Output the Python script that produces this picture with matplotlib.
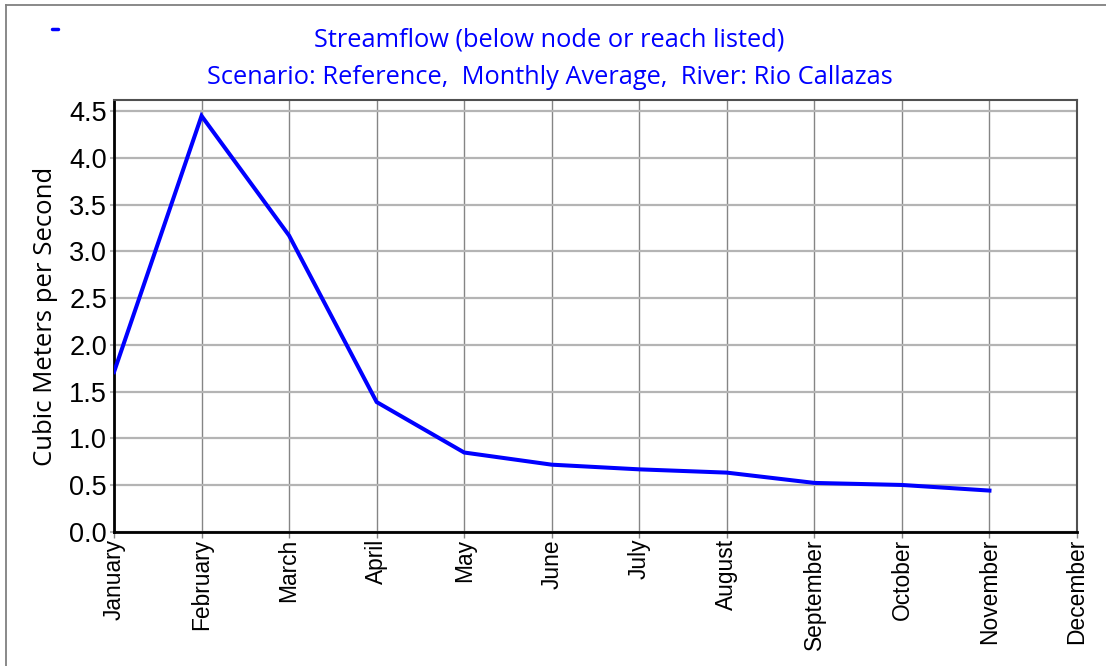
import matplotlib
matplotlib.use("Agg")
import matplotlib.pyplot as plt
from matplotlib.lines import Line2D

months = ["January", "February", "March", "April", "May", "June", "July",
          "August", "September", "October", "November", "December"]
# Monthly average streamflow (m^3/s); December has no value
flow = [1.71, 4.45, 3.17, 1.39, 0.85, 0.72, 0.67, 0.635, 0.525, 0.503, 0.443]
y_ticks = [0.0, 0.5, 1.0, 1.5, 2.0, 2.5, 3.0, 3.5, 4.0, 4.5]

title1 = "Streamflow (below node or reach listed)"
title2 = "Scenario: Reference,  Monthly Average,  River: Rio Callazas"
ylabel = "Cubic Meters per Second"

W, H = 1106, 666
fig = plt.figure(figsize=(W / 100, H / 100), dpi=100)
ax = fig.add_axes([114 / W, 1 - 532 / H, (1077 - 114) / W, (532 - 100) / H])

x = list(range(len(flow)))
ax.plot(x, flow, color="#0000ff", lw=2.9, solid_joinstyle="miter", zorder=3)

ax.set_xlim(0, len(months) - 1)
ax.set_ylim(0, 4.62)
ax.set_xticks(range(len(months)))
ax.set_xticklabels(months, rotation=90, fontsize=16.4, family="Liberation Sans")
ax.set_yticks(y_ticks)
ax.set_yticklabels([f"{v:.1f}" for v in y_ticks], fontsize=19.5, family="Liberation Sans")

ax.grid(axis="y", color="#b4b4b4", lw=1.6, zorder=1)
ax.grid(axis="x", color="#858585", lw=1.0, zorder=1)
ax.tick_params(axis="x", length=4, width=1, color="#858585", pad=1)
ax.tick_params(axis="y", length=3, width=1.5, color="#b4b4b4", pad=2)

for side in ("left", "bottom"):
    ax.spines[side].set_color("black")
    ax.spines[side].set_linewidth(2)
for side in ("top", "right"):
    ax.spines[side].set_color("#505050")
    ax.spines[side].set_linewidth(1.5)

ax.set_ylabel(ylabel, fontsize=18.5, family="Open Sans", va="center")
ax.yaxis.set_label_coords((46 - 114) / (1077 - 114), 0.5)

fig.text(0.497, 1 - 40 / H, title1, ha="center", va="center", color="#0000ff",
         fontsize=18.3, family="Open Sans")
fig.text(0.497, 1 - 77 / H, title2, ha="center", va="center", color="#0000ff",
         fontsize=18.3, family="Open Sans")

# outer frame (left and top edges) and small series marker
fig.add_artist(Line2D([6 / W, 6 / W], [0, 1 - 5 / H], transform=fig.transFigure,
                      color="#808080", lw=1.3))
fig.add_artist(Line2D([6 / W, 1], [1 - 5 / H, 1 - 5 / H], transform=fig.transFigure,
                      color="#808080", lw=1.3))
fig.add_artist(Line2D([52 / W, 58 / W], [1 - 29 / H, 1 - 29 / H], transform=fig.transFigure,
                      color="#0000ff", lw=2.5, solid_capstyle="round"))

fig.savefig("out.png", dpi=100)
